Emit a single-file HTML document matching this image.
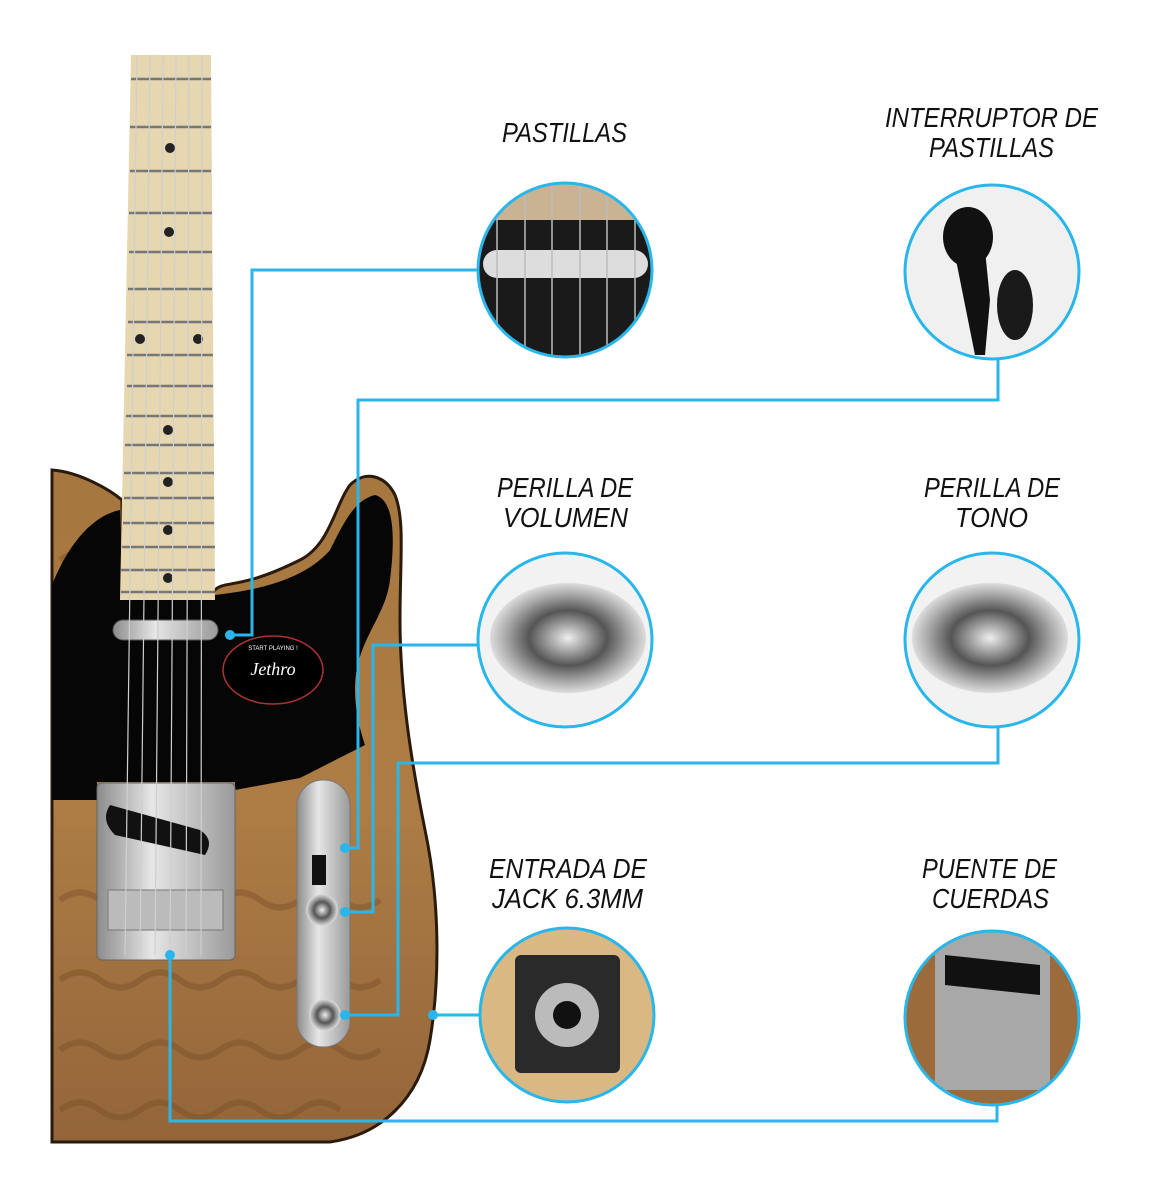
<!DOCTYPE html>
<html><head><meta charset="utf-8"><style>
html,body{margin:0;padding:0;background:#fff;}
svg{display:block}
.t{font-family:"Liberation Sans Narrow","Liberation Sans",sans-serif;font-style:italic;font-size:28px;fill:#111;text-anchor:start}
</style></head><body>
<svg width="1151" height="1200" viewBox="0 0 1151 1200" xmlns="http://www.w3.org/2000/svg">
<defs>
<linearGradient id="wood" x1="0" y1="0" x2="0" y2="1">
<stop offset="0" stop-color="#a5773f"/><stop offset="0.5" stop-color="#ad7d45"/><stop offset="1" stop-color="#93653a"/></linearGradient>
<linearGradient id="chrome" x1="0" y1="0" x2="1" y2="0">
<stop offset="0" stop-color="#8c8c8c"/><stop offset="0.4" stop-color="#e6e6e6"/><stop offset="1" stop-color="#9a9a9a"/></linearGradient>
<radialGradient id="knob" cx="0.5" cy="0.5" r="0.5">
<stop offset="0" stop-color="#eee"/><stop offset="0.5" stop-color="#555"/><stop offset="0.8" stop-color="#aaa"/><stop offset="1" stop-color="#ddd"/></radialGradient>
<clipPath id="c1"><circle cx="565" cy="270" r="87"/></clipPath>
<clipPath id="c2"><circle cx="992" cy="272" r="87"/></clipPath>
<clipPath id="c5"><circle cx="567" cy="1015" r="87"/></clipPath>
<clipPath id="c6"><circle cx="992" cy="1018" r="87"/></clipPath>
</defs>

<!-- body -->
<path d="M52,470 C80,472 110,490 122,500 L122,590 L215,590 C225,580 240,590 300,560 C330,545 335,505 350,485 C365,470 385,475 395,495 C405,520 400,560 400,620 C400,700 415,780 425,830 C440,900 440,980 430,1040 C420,1100 380,1135 330,1142 L52,1142 Z" fill="url(#wood)" stroke="#2a1a0c" stroke-width="3"/>
<g stroke="#7a4f28" stroke-width="6" fill="none" opacity="0.45">
<path d="M60,900 q20,-15 40,0 t40,0 t40,0 t40,0 t40,0 t40,0 t40,0 t40,0"/>
<path d="M60,980 q20,-15 40,0 t40,0 t40,0 t40,0 t40,0 t40,0 t40,0 t40,0"/>
<path d="M60,1050 q20,-15 40,0 t40,0 t40,0 t40,0 t40,0 t40,0 t40,0 t40,0"/>
<path d="M60,1110 q20,-15 40,0 t40,0 t40,0 t40,0 t40,0 t40,0 t40,0"/>
<path d="M60,560 q15,-12 30,0 t30,0"/>
</g>
<!-- pickguard -->
<path d="M52,585 C70,540 95,515 120,510 L122,595 L215,595 C240,592 300,585 330,550 C345,520 355,500 375,495 C395,500 395,540 390,580 C385,620 355,640 355,690 C355,710 360,730 365,745 L300,778 L235,790 L235,782 L97,782 L97,800 L52,800 Z" fill="#060606"/>
<!-- neck -->
<path d="M131,55 L211,55 L215,600 L120,600 Z" fill="#e6d7b0"/>
<g stroke="#777" stroke-width="2.5">
<line x1="131" y1="79" x2="211" y2="79"/><line x1="130" y1="127" x2="211" y2="127"/><line x1="130" y1="171" x2="211" y2="171"/><line x1="129" y1="213" x2="212" y2="213"/><line x1="129" y1="252" x2="212" y2="252"/><line x1="128" y1="289" x2="212" y2="289"/><line x1="128" y1="322" x2="212" y2="322"/><line x1="127" y1="355" x2="213" y2="355"/><line x1="127" y1="386" x2="213" y2="386"/><line x1="126" y1="416" x2="213" y2="416"/><line x1="125" y1="445" x2="214" y2="445"/><line x1="124" y1="473" x2="214" y2="473"/><line x1="124" y1="498" x2="214" y2="498"/><line x1="123" y1="523" x2="214" y2="523"/><line x1="122" y1="547" x2="215" y2="547"/><line x1="121" y1="570" x2="215" y2="570"/><line x1="121" y1="592" x2="215" y2="592"/>
</g>
<g fill="#222"><circle cx="170" cy="148" r="5"/><circle cx="169" cy="232" r="5"/><circle cx="140" cy="339" r="5"/><circle cx="198" cy="339" r="5"/><circle cx="168" cy="430" r="5"/><circle cx="168" cy="482" r="5"/><circle cx="168" cy="530" r="5"/><circle cx="168" cy="578" r="5"/></g>
<!-- neck pickup -->
<rect x="113" y="620" width="105" height="20" rx="10" fill="url(#chrome)" stroke="#555"/>
<!-- logo -->
<ellipse cx="273" cy="670" rx="50" ry="34" fill="#000" stroke="#a33" stroke-width="1.5"/>
<text x="273" y="675" font-family="Liberation Serif,serif" font-style="italic" font-size="18" fill="#fff" text-anchor="middle">Jethro</text>
<text x="273" y="650" font-family="Liberation Sans,sans-serif" font-size="6" fill="#fff" text-anchor="middle">START PLAYING !</text>
<!-- bridge -->
<rect x="97" y="783" width="138" height="177" rx="5" fill="url(#chrome)" stroke="#666"/>
<path d="M110,805 L200,830 Q215,840 205,855 L115,835 Q100,820 110,805Z" fill="#111"/>
<rect x="108" y="890" width="115" height="40" fill="#bbb" stroke="#777"/>
<!-- control plate -->
<rect x="297" y="780" width="53" height="267" rx="26" fill="url(#chrome)" stroke="#777"/>
<rect x="312" y="855" width="14" height="30" fill="#111"/>
<circle cx="322" cy="910" r="16" fill="url(#knob)"/>
<circle cx="325" cy="1015" r="16" fill="url(#knob)"/>
<!-- strings -->
<g stroke="#cfcfcf" stroke-width="1.2"><line x1="137" y1="55" x2="125" y2="955"/><line x1="150" y1="55" x2="140" y2="955"/><line x1="163" y1="55" x2="155" y2="955"/><line x1="176" y1="55" x2="170" y2="955"/><line x1="189" y1="55" x2="186" y2="955"/><line x1="202" y1="55" x2="201" y2="955"/></g>

<!-- connectors -->
<g stroke="#29b6ea" stroke-width="3" fill="none">
<polyline points="230,635 252,635 252,270 478,270"/>
<polyline points="345,848 358,848 358,400 998,400 998,359"/>
<polyline points="345,912 373,912 373,645 478,645"/>
<polyline points="345,1015 398,1015 398,763 998,763 998,728"/>
<polyline points="433,1015 480,1015"/>
<polyline points="170,955 170,1121 997,1121 997,1105"/>
</g>
<g fill="#29b6ea"><circle cx="230" cy="635" r="5"/><circle cx="345" cy="848" r="5"/><circle cx="345" cy="912" r="5"/><circle cx="345" cy="1015" r="5"/><circle cx="433" cy="1015" r="5"/><circle cx="170" cy="955" r="5"/></g>

<!-- circle 1 pastillas -->
<g clip-path="url(#c1)"><rect x="470" y="180" width="190" height="190" fill="#1a1a1a"/><rect x="470" y="180" width="190" height="40" fill="#c9b392"/><rect x="483" y="250" width="165" height="28" rx="14" fill="#ddd"/>
<g stroke="#bbb" stroke-width="1.5"><line x1="497" y1="180" x2="497" y2="360"/><line x1="525" y1="180" x2="525" y2="360"/><line x1="552" y1="180" x2="552" y2="360"/><line x1="580" y1="180" x2="580" y2="360"/><line x1="607" y1="180" x2="607" y2="360"/><line x1="635" y1="180" x2="635" y2="360"/></g></g>
<circle cx="565" cy="270" r="87" fill="none" stroke="#29b6ea" stroke-width="3"/>
<!-- circle 2 switch -->
<g clip-path="url(#c2)"><rect x="900" y="180" width="190" height="190" fill="#f0f0f0"/>
<ellipse cx="968" cy="237" rx="25" ry="30" fill="#111"/><path d="M955,255 L985,250 L990,300 L985,355 L975,355 Z" fill="#111"/><ellipse cx="1015" cy="305" rx="18" ry="35" fill="#1a1a1a"/></g>
<circle cx="992" cy="272" r="87" fill="none" stroke="#29b6ea" stroke-width="3"/>
<!-- circle 3/4 knobs -->
<circle cx="565" cy="640" r="87" fill="#f2f2f2" stroke="#29b6ea" stroke-width="3"/>
<ellipse cx="568" cy="638" rx="78" ry="55" fill="url(#knob)"/>
<circle cx="992" cy="640" r="87" fill="#f2f2f2" stroke="#29b6ea" stroke-width="3"/>
<ellipse cx="990" cy="638" rx="78" ry="55" fill="url(#knob)"/>
<!-- circle 5 jack -->
<g clip-path="url(#c5)"><rect x="470" y="920" width="200" height="200" fill="#d9b884"/><rect x="515" y="955" width="105" height="118" rx="6" fill="#2a2a2a"/><circle cx="567" cy="1015" r="32" fill="#bbb"/><circle cx="567" cy="1015" r="14" fill="#111"/></g>
<circle cx="567" cy="1015" r="87" fill="none" stroke="#29b6ea" stroke-width="3"/>
<!-- circle 6 bridge -->
<g clip-path="url(#c6)"><rect x="900" y="925" width="190" height="190" fill="#9b6b3c"/><rect x="935" y="925" width="115" height="165" fill="#a8a8a8"/><path d="M945,955 L1040,965 L1040,995 L945,985Z" fill="#111"/></g>
<circle cx="992" cy="1018" r="87" fill="none" stroke="#29b6ea" stroke-width="3"/>

<!-- labels -->
<text class="t" x="502" y="142" textLength="125" lengthAdjust="spacingAndGlyphs">PASTILLAS</text>
<text class="t" x="885" y="127" textLength="213" lengthAdjust="spacingAndGlyphs">INTERRUPTOR DE</text>
<text class="t" x="929" y="157" textLength="125" lengthAdjust="spacingAndGlyphs">PASTILLAS</text>
<text class="t" x="497" y="497" textLength="136" lengthAdjust="spacingAndGlyphs">PERILLA DE</text>
<text class="t" x="503" y="527" textLength="125" lengthAdjust="spacingAndGlyphs">VOLUMEN</text>
<text class="t" x="924" y="497" textLength="136" lengthAdjust="spacingAndGlyphs">PERILLA DE</text>
<text class="t" x="955" y="527" textLength="73" lengthAdjust="spacingAndGlyphs">TONO</text>
<text class="t" x="489" y="878" textLength="158" lengthAdjust="spacingAndGlyphs">ENTRADA DE</text>
<text class="t" x="492" y="908" textLength="151" lengthAdjust="spacingAndGlyphs">JACK 6.3MM</text>
<text class="t" x="922" y="878" textLength="135" lengthAdjust="spacingAndGlyphs">PUENTE DE</text>
<text class="t" x="932" y="908" textLength="117" lengthAdjust="spacingAndGlyphs">CUERDAS</text>
</svg>
</body></html>
